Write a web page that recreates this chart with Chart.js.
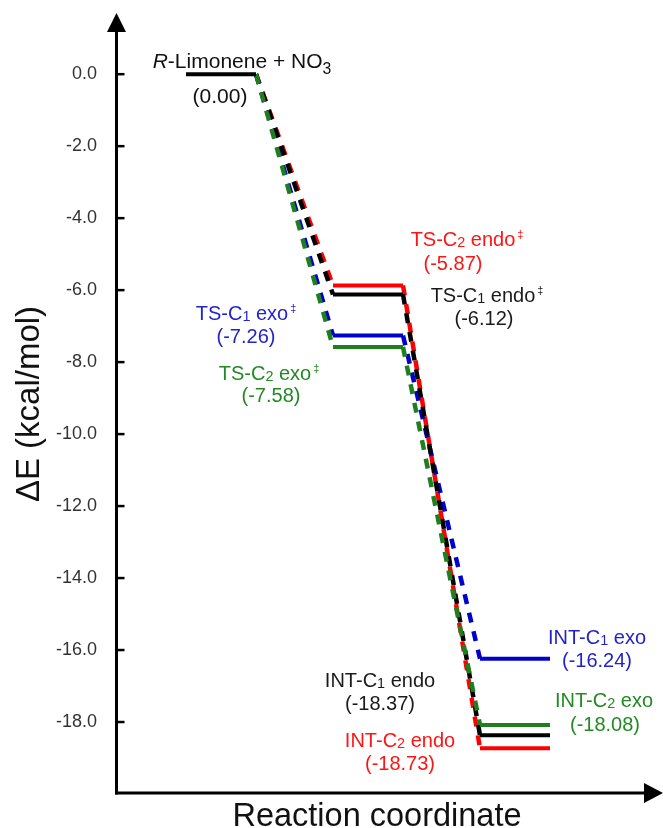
<!DOCTYPE html>
<html><head><meta charset="utf-8">
<script src="https://cdn.jsdelivr.net/npm/chart.js@4.4.0/dist/chart.umd.min.js"></script>
<style>html,body{margin:0;padding:0;background:#fff;}#wrap{width:663px;height:828px;}</style>
</head><body><div id="wrap"><canvas id="c" width="663" height="828"></canvas></div>
<script>
// ---- data ----
const stages = ['Reactant', 'TS', 'INT'];
const stageStart = [1.0, 3.1, 5.2];   // reaction-coordinate units
const stageEnd   = [2.0, 4.1, 6.2];
const reactantEnergy = 0.00;
const seriesNames = ['C2 exo', 'C1 endo', 'C1 exo', 'C2 endo'];
const tsEnergy  = [-7.58, -6.12, -7.26, -5.87];
const intEnergy = [-18.08, -18.37, -16.24, -18.73];
const yTicks = [0, -2, -4, -6, -8, -10, -12, -14, -16, -18];
const yTickLabels = ['0.0', '-2.0', '-4.0', '-6.0', '-8.0', '-10.0', '-12.0', '-14.0', '-16.0', '-18.0'];
const yRange = [-20, 1.7];
const xRange = [0, 7.8];

// ---- styles ----
const lineColors = ['#1f7f1f', '#000000', '#0000cc', '#ff0000'];
const textColors = ['#238a23', '#1a1a1a', '#2323cc', '#ff1414'];
const F = '"Liberation Sans", Arial, Helvetica, sans-serif';
const fmt = v => '(' + v.toFixed(2) + ')';

const datasets = [];
datasets.push({
  label: 'R-Limonene + NO3',
  data: [{x: stageStart[0], y: reactantEnergy}, {x: stageEnd[0], y: reactantEnergy}],
  borderColor: '#000', borderWidth: 4, pointRadius: 0, borderCapStyle: 'butt', order: 0
});
seriesNames.forEach((n, i) => {
  datasets.push({
    label: n,
    data: [
      {x: stageEnd[0], y: reactantEnergy},
      {x: stageStart[1], y: tsEnergy[i]},
      {x: stageEnd[1], y: tsEnergy[i]},
      {x: stageStart[2], y: intEnergy[i]},
      {x: stageEnd[2], y: intEnergy[i]}
    ],
    borderColor: lineColors[i], borderWidth: 4, pointRadius: 0, borderCapStyle: 'butt',
    tension: 0, order: i + 1,
    segment: {
      borderDash: ctx => (ctx.p0DataIndex % 2 === 0) ? [10, 9] : undefined,
      borderWidth: ctx => (ctx.p0DataIndex % 2 === 0) ? 4.5 : undefined
    }
  });
});

// label layout (pixel centres of text lines)
function sc(t){return [t,'sc'];}
const annotations = [
  {color: '#111', size: 21, lines: [
    {segs: [['R','it'], ['-Limonene + NO'], ['3','sub']], x: 242, y: 60},
    {segs: [[fmt(reactantEnergy)]], x: 220, y: 95}]},
  // TS
  {color: textColors[3], lines: [
    {segs: [['TS-C'], sc('2'), [' endo'], ['‡','sup']], x: 463, y: 239},
    {segs: [[fmt(tsEnergy[3])]], x: 453, y: 263}]},
  {color: textColors[1], lines: [
    {segs: [['TS-C'], sc('1'), [' endo'], ['‡','sup']], x: 483, y: 295},
    {segs: [[fmt(tsEnergy[1])]], x: 484, y: 318}]},
  {color: textColors[2], lines: [
    {segs: [['TS-C'], sc('1'), [' exo'], ['‡','sup']], x: 242, y: 313},
    {segs: [[fmt(tsEnergy[2])]], x: 246, y: 336}]},
  {color: textColors[0], lines: [
    {segs: [['TS-C'], sc('2'), [' exo'], ['‡','sup']], x: 265, y: 373},
    {segs: [[fmt(tsEnergy[0])]], x: 271, y: 395}]},
  // INT
  {color: textColors[2], lines: [
    {segs: [['INT-C'], sc('1'), [' exo']], x: 597, y: 637},
    {segs: [[fmt(intEnergy[2])]], x: 597, y: 660}]},
  {color: textColors[0], lines: [
    {segs: [['INT-C'], sc('2'), [' exo']], x: 604, y: 700},
    {segs: [[fmt(intEnergy[0])]], x: 605, y: 724}]},
  {color: textColors[1], lines: [
    {segs: [['INT-C'], sc('1'), [' endo']], x: 380, y: 680},
    {segs: [[fmt(intEnergy[1])]], x: 380, y: 703}]},
  {color: textColors[3], lines: [
    {segs: [['INT-C'], sc('2'), [' endo']], x: 400, y: 740},
    {segs: [[fmt(intEnergy[3])]], x: 400, y: 763}]}
];

function drawRich(ctx, segs, cx, cy, size, color) {
  const parts = segs.map(s => {
    let sz = size, dy = 0, style = '';
    const k = s[1];
    if (k === 'it') style = 'italic ';
    if (k === 'sc') { sz = size * 0.72; dy = 0.5; }
    if (k === 'sub') { sz = size * 0.75; dy = size * 0.3; }
    if (k === 'sup') { sz = size * 0.55; dy = -size * 0.42; }
    ctx.font = style + sz + 'px ' + F;
    let w = ctx.measureText(s[0]).width;
    if (k === 'sup') w += 2;
    return {t: s[0], k, sz, dy, style, w};
  });
  const mainW = parts.filter(p => p.k !== 'sup').reduce((a, p) => a + p.w, 0);
  let x = cx - mainW / 2;
  const base = cy + size * 0.36;
  ctx.fillStyle = color; ctx.textAlign = 'left'; ctx.textBaseline = 'alphabetic';
  for (const p of parts) {
    ctx.font = p.style + p.sz + 'px ' + F;
    ctx.fillText(p.t, x + (p.k === 'sup' ? 2 : 0), base + p.dy);
    x += p.w;
  }
}

const decor = {
  id: 'decor',
  afterDraw(chart) {
    const ctx = chart.ctx, a = chart.chartArea;
    const ys = chart.scales.y;
    const ax = a.left + 0.5, ay = a.bottom - 1;
    ctx.save();
    ctx.strokeStyle = '#000'; ctx.fillStyle = '#000';
    // y axis
    ctx.lineWidth = 3;
    ctx.beginPath(); ctx.moveTo(ax, ay + 1.5); ctx.lineTo(ax, a.top + 15); ctx.stroke();
    ctx.beginPath(); ctx.moveTo(ax, a.top); ctx.lineTo(ax - 9.5, a.top + 19); ctx.lineTo(ax + 9.5, a.top + 19); ctx.closePath(); ctx.fill();
    // x axis
    ctx.beginPath(); ctx.moveTo(ax - 1.5, ay); ctx.lineTo(a.right - 15, ay); ctx.stroke();
    ctx.beginPath(); ctx.moveTo(a.right + 1, ay); ctx.lineTo(a.right - 18, ay - 10); ctx.lineTo(a.right - 18, ay + 10); ctx.closePath(); ctx.fill();
    // tick marks
    ctx.lineWidth = 2.5;
    yTicks.forEach(v => {
      const py = ys.getPixelForValue(v);
      ctx.beginPath(); ctx.moveTo(ax, py); ctx.lineTo(ax + 8, py); ctx.stroke();
    });
    // axis titles
    ctx.font = '32.5px ' + F; ctx.textAlign = 'center'; ctx.textBaseline = 'alphabetic'; ctx.fillStyle = '#111';
    ctx.fillText('Reaction coordinate', 377, 826);
    ctx.save(); ctx.translate(39, 404); ctx.rotate(-Math.PI / 2);
    ctx.font = '33px ' + F; ctx.fillText('ΔE (kcal/mol)', 0, 0); ctx.restore();
    // annotations
    annotations.forEach(an => an.lines.forEach(l => drawRich(ctx, l.segs, l.x, l.y, an.size || 20, an.color)));
    ctx.restore();
  }
};

new Chart(document.getElementById('c'), {
  type: 'line',
  data: {datasets},
  options: {
    responsive: false, animation: false,
    layout: {padding: {left: 0, right: 1, top: 13, bottom: 34}},
    plugins: {legend: {display: false}, tooltip: {enabled: false}, title: {display: false}},
    scales: {
      x: {type: 'linear', min: xRange[0], max: xRange[1], display: false},
      y: {
        type: 'linear', min: yRange[0], max: yRange[1],
        afterFit: s => { s.width = 116; s.paddingTop = 0; s.paddingBottom = 0; },
        afterBuildTicks: s => { s.ticks = yTicks.map(v => ({value: v})); },
        grid: {display: false, drawTicks: false}, border: {display: false},
        ticks: {
          padding: 19, color: '#333', font: {family: F, size: 18},
          callback: v => { const i = yTicks.indexOf(v); return i >= 0 ? yTickLabels[i] : ''; }
        }
      }
    }
  },
  plugins: [decor]
});
</script></body></html>
